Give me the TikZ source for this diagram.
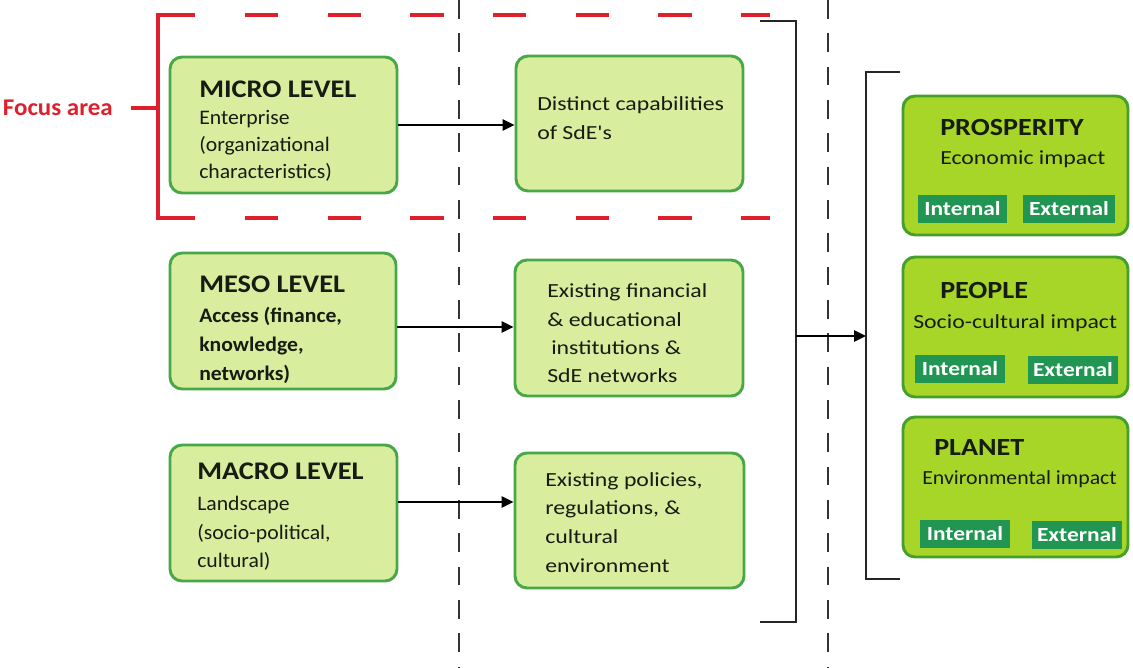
\documentclass[tikz,border=0pt]{standalone}
\usepackage{fontspec}
\setmainfont{Carlito}
\newfontfamily\ttlface{Carlito}[FakeStretch=1.12]
\newfontfamily\lftface{Carlito}[FakeStretch=1.05]
\newfontfamily\midface{Carlito}[FakeStretch=1.19]
\newfontfamily\envface{Carlito}[FakeStretch=1.09]
\newfontfamily\impface{Carlito}[FakeStretch=1.14]
\newfontfamily\tagface{Carlito}[FakeStretch=1.17]
\newfontfamily\focface{Carlito}[FakeStretch=1.04]
\usetikzlibrary{arrows.meta,fit}
\definecolor{boxfill}{RGB}{216,238,158}
\definecolor{boxline}{RGB}{72,168,72}
\definecolor{limefill}{RGB}{168,214,40}
\definecolor{limeline}{RGB}{70,158,44}
\definecolor{tagfill}{RGB}{32,150,82}
\definecolor{focusred}{RGB}{222,32,44}
\definecolor{txt}{RGB}{22,28,18}
\newcommand\ttlfont{\ttlface\fontsize{19}{22}\selectfont\bfseries}
\newcommand\bdyfont{\lftface\fontsize{15.5}{18}\selectfont}
\newcommand\bdybfont{\lftface\fontsize{15.5}{18}\selectfont\bfseries}
\newcommand\midfont{\midface\fontsize{15}{18}\selectfont}
\newcommand\envfont{\envface\fontsize{15}{18}\selectfont}
\newcommand\impfont{\impface\fontsize{18.5}{22}\selectfont\bfseries}
\newcommand\tagfont{\tagface\fontsize{15}{18}\selectfont\bfseries}
\newcommand\focfont{\focface\fontsize{18}{21}\selectfont\bfseries}
\tikzset{
 lvlbox/.style={draw=boxline, fill=boxfill, line width=2.2pt, rounded corners=9pt, inner sep=0pt},
 impbox/.style={draw=limeline, fill=limefill, line width=2.2pt, rounded corners=9pt, inner sep=0pt},
 tagbox/.style={fill=tagfill, text=white, font=\tagfont, inner sep=0pt, minimum height=21pt},
 ttl/.style={anchor=base west, inner sep=0pt, font=\ttlfont, text=txt},
 bdy/.style={anchor=base west, inner sep=0pt, font=\bdyfont, text=txt},
 bdyb/.style={anchor=base west, inner sep=0pt, font=\bdybfont, text=txt},
 mid/.style={anchor=base west, inner sep=0pt, font=\midfont, text=txt},
 env/.style={anchor=base west, inner sep=0pt, font=\envfont, text=txt},
 impt/.style={anchor=base west, inner sep=0pt, font=\impfont, text=txt},
 conn/.style={draw=black, line width=1.5pt, -{Triangle[length=9pt,width=8.5pt]}},
 brk/.style={draw=black!85, line width=1.5pt},
 vdash/.style={draw=black!80, line width=1.6pt, dash pattern=on 14pt off 11pt},
 redline/.style={draw=focusred, line width=3pt},
 reddash/.style={draw=focusred, line width=3pt, dash pattern=on 25pt off 37pt},
}
\begin{document}
\begin{tikzpicture}[x=0.75pt,y=-0.75pt]
\useasboundingbox (0,0) rectangle (1133,668);
% vertical dashed separators
\draw[vdash] (459,0) -- (459,668);
\draw[vdash] (828,0) -- (828,668);
% focus area bracket
\draw[redline] (195,15) -- (158,15) -- (158,218) -- (195,218);
\draw[reddash] (245,15) -- (770,15);
\draw[reddash] (245,218) -- (770,218);
\draw[redline] (131,108) -- (158,108);
\node[anchor=base east, inner sep=0pt, font=\focfont, text=focusred] (focus) at (113,115) {Focus area};
% left level boxes
\node[lvlbox, fit={(170,57) (397,193)}] (micro) {};
\node[lvlbox, fit={(516,56) (743,191)}] (dist) {};
\node[lvlbox, fit={(170,253) (396,389)}] (meso) {};
\node[lvlbox, fit={(515,260) (743,396)}] (fin) {};
\node[lvlbox, fit={(170,445) (397,581)}] (macro) {};
\node[lvlbox, fit={(515,453) (744,588)}] (pol) {};
% texts
\node[ttl] (microt) at (199,97) {MICRO LEVEL};
\node[bdy] (micro1) at (199,124) {Enterprise};
\node[bdy] (micro2) at (199,151) {(organizational};
\node[bdy] (micro3) at (199,178) {characteristics)};
\node[mid] (dist1) at (537,110) {Distinct capabilities};
\node[mid] (dist2) at (537,139) {of SdE's};
\node[ttl] (mesot) at (199,292) {MESO LEVEL};
\node[bdyb] (meso1) at (199,322) {Access (finance,};
\node[bdyb] (meso2) at (199,351) {knowledge,};
\node[bdyb] (meso3) at (199,380) {networks)};
\node[mid] (fin1) at (547,297) {Existing financial};
\node[mid] (fin2) at (547,326) {\& educational};
\node[mid] (fin3) at (551,354) {institutions \&};
\node[mid] (fin4) at (547,382) {SdE networks};
\node[ttl] (macrot) at (197,479) {MACRO LEVEL};
\node[bdy] (macro1) at (197,510) {Landscape};
\node[bdy] (macro2) at (197,539) {(socio-political,};
\node[bdy] (macro3) at (197,567) {cultural)};
\node[mid] (pol1) at (545,486) {Existing policies,};
\node[mid] (pol2) at (545,514) {regulations, \&};
\node[mid] (pol3) at (545,543) {cultural};
\node[mid] (pol4) at (545,572) {environment};
% arrows between level boxes
\coordinate (a1) at (397,125);
\coordinate (a2) at (396,327);
\coordinate (a3) at (397,502);
\draw[conn] (micro.east |- a1) -- (dist.west |- a1);
\draw[conn] (meso.east |- a2) -- (fin.west |- a2);
\draw[conn] (macro.east |- a3) -- (pol.west |- a3);
% collecting bracket
\coordinate (b1) at (760,21);
\coordinate (b2) at (796,21);
\coordinate (b3) at (796,622);
\coordinate (b4) at (760,622);
\coordinate (bm) at (796,336);
\draw[brk] (b1) -- (b2) -- (b3) -- (b4);
\coordinate (c1) at (900,72);
\coordinate (c2) at (866,72);
\coordinate (c3) at (866,579);
\coordinate (c4) at (900,579);
\coordinate (cm) at (866,336);
\draw[brk] (c1) -- (c2) -- (c3) -- (c4);
\draw[conn] (bm) -- (cm);
% impact boxes
\node[impbox, fit={(903,96) (1128,235)}] (pros) {};
\node[impbox, fit={(903,257) (1128,397)}] (peop) {};
\node[impbox, fit={(903,417) (1128,557)}] (plan) {};
\node[impt] (prost) at (940,135) {PROSPERITY};
\node[mid] (pros1) at (940,164) {Economic impact};
\node[impt] (peopt) at (940,298) {PEOPLE};
\node[mid] (peop1) at (913,328) {Socio-cultural impact};
\node[impt] (plant) at (934,455) {PLANET};
\node[env] (plan1) at (922,484) {Environmental impact};
\node[tagbox, minimum width=67pt] (prosi) at (962.5,208.5) {Internal};
\node[tagbox, minimum width=69pt] (prose) at (1069,208.5) {External};
\node[tagbox, minimum width=67.5pt] (peopi) at (960,368.5) {Internal};
\node[tagbox, minimum width=67.5pt] (peope) at (1073,370) {External};
\node[tagbox, minimum width=67.5pt] (plani) at (965,533.5) {Internal};
\node[tagbox, minimum width=67.5pt] (plane) at (1077,535) {External};
\end{tikzpicture}
\end{document}
